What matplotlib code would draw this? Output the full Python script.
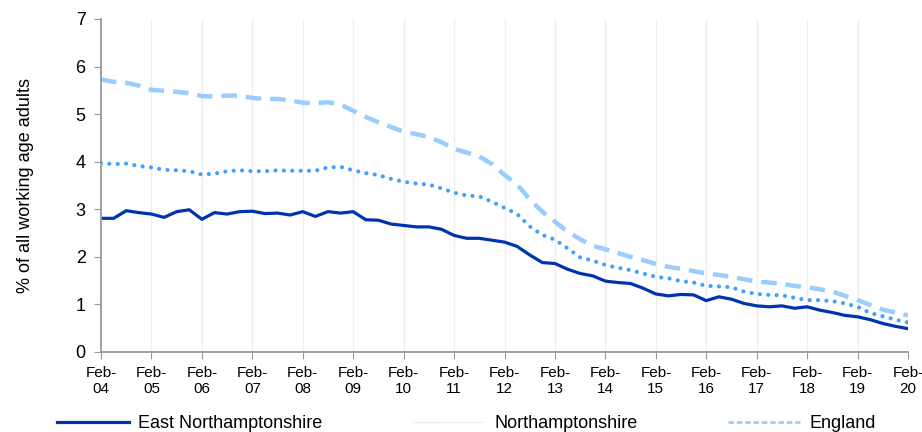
import matplotlib
matplotlib.use("Agg")
import matplotlib.pyplot as plt
from matplotlib.lines import Line2D

plt.rcParams['font.family'] = ['Liberation Sans', 'DejaVu Sans']

# quarterly, Feb-04 .. Feb-20
quarters = list(range(65))
year_ticks = list(range(0, 65, 4))
year_labels = ["Feb-\n%02d" % y for y in range(4, 21)]

east_northants = [
    2.81, 2.81, 2.97, 2.93, 2.90, 2.83, 2.95, 2.99,
    2.79, 2.93, 2.90, 2.95, 2.96, 2.91, 2.92, 2.88,
    2.95, 2.85, 2.95, 2.92, 2.95, 2.78, 2.77, 2.69,
    2.66, 2.63, 2.63, 2.58, 2.45, 2.39, 2.39, 2.35,
    2.31, 2.22, 2.04, 1.88, 1.86, 1.74, 1.65, 1.60,
    1.49, 1.46, 1.44, 1.34, 1.22, 1.18, 1.21, 1.20,
    1.08, 1.16, 1.11, 1.02, 0.97, 0.95, 0.97, 0.92,
    0.95, 0.88, 0.83, 0.77, 0.74, 0.68, 0.60, 0.54,
    0.49,
]
northants = [
    3.97, 3.95, 3.96, 3.91, 3.88, 3.83, 3.82, 3.80,
    3.73, 3.75, 3.80, 3.82, 3.80, 3.80, 3.82, 3.81,
    3.81, 3.81, 3.88, 3.89, 3.82, 3.76, 3.72, 3.64,
    3.58, 3.54, 3.52, 3.44, 3.35, 3.29, 3.27, 3.16,
    3.03, 2.90, 2.64, 2.46, 2.36, 2.18, 1.99, 1.92,
    1.83, 1.77, 1.72, 1.65, 1.58, 1.55, 1.49, 1.46,
    1.39, 1.38, 1.36, 1.27, 1.22, 1.20, 1.19, 1.14,
    1.09, 1.09, 1.07, 1.02, 0.95, 0.82, 0.75, 0.68,
    0.62,
]
england = [
    5.73, 5.68, 5.66, 5.60, 5.51, 5.49, 5.47, 5.44,
    5.38, 5.37, 5.39, 5.39, 5.34, 5.32, 5.32, 5.29,
    5.24, 5.23, 5.25, 5.20, 5.07, 4.94, 4.83, 4.73,
    4.63, 4.58, 4.52, 4.41, 4.27, 4.19, 4.11, 3.95,
    3.72, 3.52, 3.21, 2.95, 2.74, 2.53, 2.37, 2.23,
    2.16, 2.08, 2.00, 1.93, 1.85, 1.79, 1.75, 1.70,
    1.65, 1.62, 1.58, 1.53, 1.48, 1.46, 1.43, 1.39,
    1.36, 1.32, 1.27, 1.18, 1.09, 0.99, 0.89, 0.83,
    0.77,
]

fig = plt.figure(figsize=(9.22, 4.32), dpi=100)
ax = fig.add_axes([101 / 922, 80 / 432, 807 / 922, 333 / 432])

ax.plot(quarters, east_northants, color="#0033b0", lw=2.3,
        solid_joinstyle="round")
ax.plot(quarters, northants, color="#44a0ff", lw=3, linestyle=(0, (0.01, 2.0)),
        dash_capstyle="round")
ax.plot(quarters, england, color="#99ccff", lw=3.2, linestyle=(0, (3.5, 2)))

ax.set_xlim(0, 64)
ax.set_ylim(0, 7)
ax.set_yticks(range(8))
ax.set_xticks(year_ticks)
ax.set_xticklabels(year_labels, fontsize=11)
ax.tick_params(axis="y", labelsize=13, length=5, color="#999999", pad=6)
ax.tick_params(axis="x", length=5, color="#999999", pad=5)
ax.grid(axis="x", color="#eeeeee", lw=1)
ax.set_axisbelow(True)
for s in ["top", "right"]:
    ax.spines[s].set_visible(False)
for s in ["left", "bottom"]:
    ax.spines[s].set_color("#999999")
    ax.spines[s].set_linewidth(1.3)

ax.set_ylabel("% of all working age adults", fontsize=13, labelpad=30)

# legend handles are drawn thinner than the plot lines, as in the original
handles = [
    Line2D([], [], color="#0033b0", lw=2.3),
    Line2D([], [], color="#cfe6ff", lw=1, linestyle=(0, (1, 1))),
    Line2D([], [], color="#99ccff", lw=2, linestyle=(0, (2, 1))),
]
labels = ["East Northamptonshire", "Northamptonshire", "England"]
fig.legend(handles, labels, loc="lower left", bbox_to_anchor=(41 / 922, -0.038),
           ncol=3, frameon=False, fontsize=13, handlelength=4.0,
           handletextpad=0.5, columnspacing=5.0)

fig.savefig("out.png", dpi=100)
